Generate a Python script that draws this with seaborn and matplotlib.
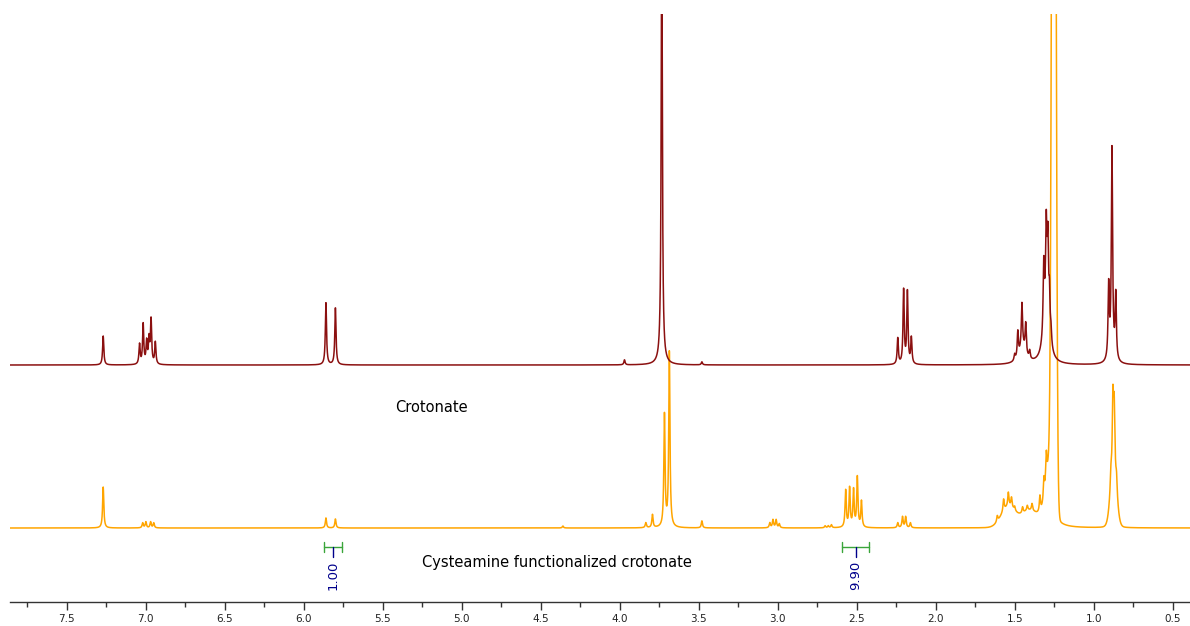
import numpy as np
import pandas as pd
import matplotlib
matplotlib.use("Agg")
import matplotlib.pyplot as plt
import seaborn as sns

# ---------------- data ----------------
# Crotonate (top trace): narrow Lorentzian lines  (ppm, height)
top_ppm = [7.27, 7.04, 7.017, 6.995, 6.98, 6.967, 6.94, 5.86, 5.80, 3.97, 3.734, 3.48,
           2.24, 2.203, 2.179, 2.154, 1.50, 1.48, 1.454, 1.43, 1.405,
           1.316, 1.30, 1.29, 1.28, 1.27, 0.905, 0.884, 0.86]
top_h = [29, 20, 40, 22, 24, 44, 22, 62, 57, 5, 430, 3,
         26, 74, 72, 26, 6, 26, 44, 30, 8,
         66, 80, 76, 40, 14, 72, 200, 64]
top_broad_ppm = [1.30, 1.45, 0.884, 3.734]
top_broad_h = [55, 16, 14, 3]
top_broad_w = [0.02, 0.025, 0.015, 0.03]

# Cysteamine functionalized crotonate (bottom trace)
bot_ppm = [7.27, 7.02, 7.00, 6.97, 6.95, 5.86, 5.80, 4.36, 3.835, 3.793, 3.717, 3.686, 3.48,
           3.05, 3.03, 3.01, 2.99, 2.70, 2.68, 2.66,
           2.57, 2.545, 2.52, 2.496, 2.47, 2.24, 2.21, 2.19, 2.16,
           1.61, 1.57, 1.54, 1.52, 1.50, 1.45, 1.42, 1.39, 1.34, 1.315, 1.30,
           0.891, 0.878, 0.870, 0.855]
bot_h = [41, 5, 6, 6, 5, 10, 9, 2, 5, 13, 112, 175, 7,
         5, 8, 8, 4, 2, 2, 3,
         37, 39, 37, 50, 26, 5, 11, 11, 5,
         6, 12, 14, 10, 4, 6, 5, 7, 16, 22, 30,
         15, 72, 62, 15]
bot_broad_ppm = [1.252, 1.54, 1.41, 1.285, 0.874]
bot_broad_h = [1400, 20, 15, 60, 55]
bot_broad_w = [0.011, 0.045, 0.05, 0.025, 0.019]
bot_broad_kind = ["g", "g", "g", "l", "g"]

# integrals
int_from = [5.87, 2.595]
int_to = [5.76, 2.42]
int_labels = ["1.00", "9.90"]

tick_major = [7.5, 7.0, 6.5, 6.0, 5.5, 5.0, 4.5, 4.0, 3.5, 3.0, 2.5, 2.0, 1.5, 1.0, 0.5]

# ---------------- build traces ----------------
ppm = np.linspace(7.86, 0.39, 14000)
W = 0.0045


def lor(x, c, h, w):
    return h * w ** 2 / ((x - c) ** 2 + w ** 2)


def gau(x, c, h, s):
    return h * np.exp(-((x - c) ** 2) / (2 * s ** 2))


top = np.zeros_like(ppm)
for c, h in zip(top_ppm, top_h):
    top += lor(ppm, c, h, W)
for c, h, w in zip(top_broad_ppm, top_broad_h, top_broad_w):
    top += lor(ppm, c, h, w)

bot = np.zeros_like(ppm)
for c, h in zip(bot_ppm, bot_h):
    bot += lor(ppm, c, h, W)
for c, h, w, k in zip(bot_broad_ppm, bot_broad_h, bot_broad_w, bot_broad_kind):
    bot += gau(ppm, c, h, w) if k == "g" else lor(ppm, c, h, w)

TOP_OFF = 237
BOT_OFF = 74
df_top = pd.DataFrame({"ppm": ppm, "y": top + TOP_OFF})
df_bot = pd.DataFrame({"ppm": ppm, "y": bot + BOT_OFF})

# ---------------- plot ----------------
sns.set_theme(style="white")
plt.rcParams["font.family"] = ["DejaVu Sans"]

fig = plt.figure(figsize=(11.9, 6.26), dpi=100)
ax = fig.add_axes([10 / 1190, 1 - 602 / 626, 1180 / 1190, 588 / 626])

sns.lineplot(data=df_bot, x="ppm", y="y", ax=ax, color="#FFA500", lw=1.1,
             estimator=None, sort=False)
sns.lineplot(data=df_top, x="ppm", y="y", ax=ax, color="#8B1010", lw=1.1,
             estimator=None, sort=False)

ax.set_xlim(7.86, 0.39)
ax.set_ylim(0, 588)

for s in ["top", "left", "right"]:
    ax.spines[s].set_visible(False)
ax.spines["bottom"].set_color("#333333")
ax.spines["bottom"].set_linewidth(1.0)
ax.set_yticks([])
ax.set_xticks(tick_major)
ax.set_xticklabels([f"{t:.1f}" for t in tick_major])
ax.set_xticks(np.arange(7.75, 0.39, -0.5), minor=True)
ax.tick_params(axis="x", which="major", direction="out", length=6, width=1,
               color="#333333", labelsize=7.5, labelcolor="#222222", pad=3,
               bottom=True)
ax.tick_params(axis="x", which="minor", direction="out", length=3.5, width=1,
               color="#333333", bottom=True)
ax.set_xlabel("")
ax.set_ylabel("")

ax.text(5.19, 194, "Crotonate", ha="center", va="center", fontsize=10.5, color="black")
ax.text(4.40, 40, "Cysteamine functionalized crotonate", ha="center", va="center",
        fontsize=10.5, color="black")

for a, b, lab in zip(int_from, int_to, int_labels):
    ax.plot([a, b], [55, 55], color="#3AA53A", lw=1.0)
    ax.plot([a, a], [50, 60], color="#3AA53A", lw=1.0)
    ax.plot([b, b], [50, 60], color="#3AA53A", lw=1.0)
    m = (a + b) / 2
    ax.plot([m, m], [55, 45], color="#00008B", lw=1.0)
    ax.text(m, 27, lab, rotation=90, ha="center", va="center", fontsize=9.5,
            color="#00008B")

fig.savefig("out.png", dpi=100)
